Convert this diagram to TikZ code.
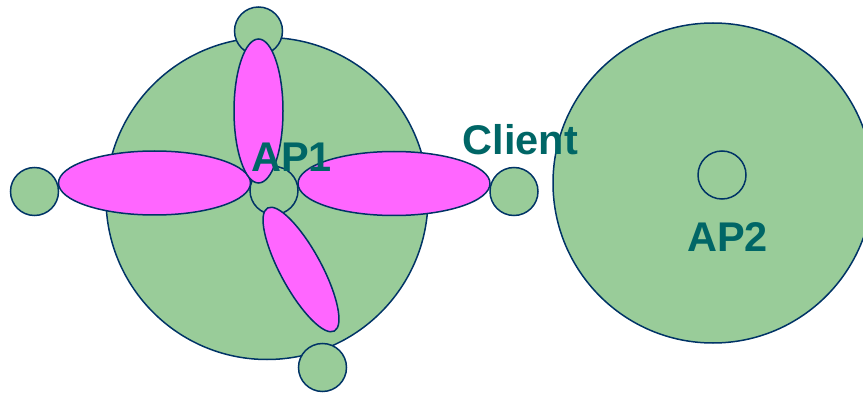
\documentclass[tikz,border=0pt]{standalone}
\usepackage{fontspec}
\setmainfont{Liberation Sans}
\usetikzlibrary{shapes.geometric}
\definecolor{cellgreen}{HTML}{99CC99}
\definecolor{beammag}{HTML}{FF66FF}
\definecolor{edgenavy}{HTML}{003366}
\definecolor{labteal}{HTML}{006666}
\tikzset{
  cell/.style={circle, draw=edgenavy, fill=cellgreen, line width=1.5pt, inner sep=0pt, minimum size=#1},
  hole/.style={circle, draw=edgenavy, line width=1.5pt, inner sep=0pt, minimum size=#1},
  beam/.style={ellipse, draw=edgenavy, fill=beammag, line width=1.5pt, inner sep=0pt},
  lab/.style={text=labteal, font=\fontsize{41.5}{41.5}\selectfont\bfseries, inner sep=0pt}
}
\begin{document}
\begin{tikzpicture}[x=1pt,y=-1pt]
\useasboundingbox (0,0) rectangle (863,393);
\clip (0,0) rectangle (863,393);
% coverage areas
\node[cell=322pt] (ap1area) at (267,198.5) {};
\node[cell=320pt] (ap2area) at (713,183) {};
% clients and AP1
\node[cell=48pt] (ctop) at (258.5,31) {};
\node[cell=48pt] (cleft) at (34.5,191.5) {};
\node[cell=48pt] (cright) at (514,191.5) {};
\node[cell=48pt] (cbottom) at (322.5,367.5) {};
\node[cell=48pt] (ap1) at (274,190.5) {};
% beams
\node[beam, minimum width=192pt, minimum height=64pt] (bleft) at (154.5,183) {};
\node[beam, minimum width=192pt, minimum height=64pt] (bright) at (394,183.5) {};
\node[beam, minimum width=140pt, minimum height=41pt, rotate=-61.5] (bdiag) at (301,269.5) {};
\node[beam, minimum width=49pt, minimum height=144pt] (btop) at (258.5,111) {};
% AP2
\node[hole=48pt] (ap2) at (722,175) {};
% labels
\node[lab] (lap1) at (291.5,157) {AP1};
\node[lab] (lclient) at (520.5,140) {Client};
\node[lab] (lap2) at (727.5,237) {AP2};
\end{tikzpicture}
\end{document}
